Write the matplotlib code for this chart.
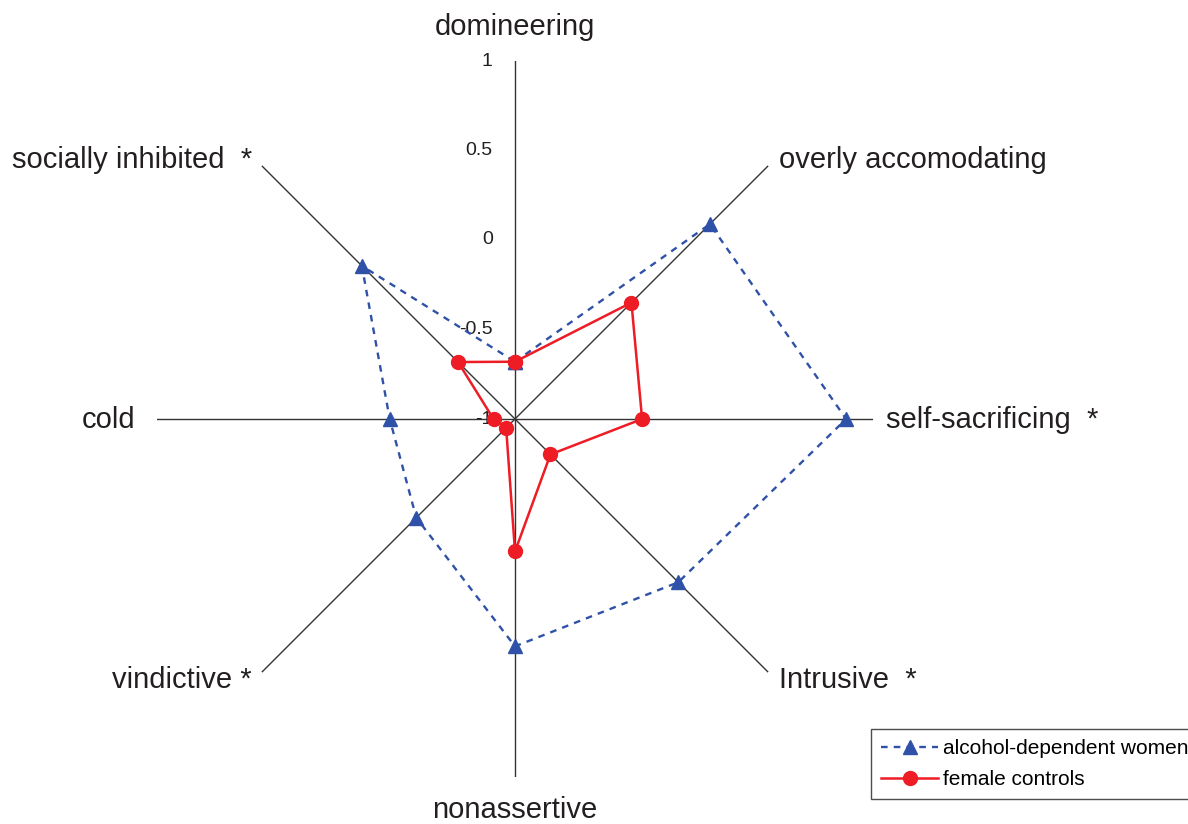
import numpy as np
import matplotlib.pyplot as plt

plt.rcParams['font.family'] = ['Liberation Sans', 'DejaVu Sans']

categories = ['domineering', 'overly accomodating', 'self-sacrificing', 'Intrusive',
              'nonassertive', 'vindictive', 'cold', 'socially inhibited']
alcohol_dependent = [-0.68, 0.54, 0.85, 0.29, 0.27, -0.22, -0.30, 0.21]
female_controls = [-0.68, -0.08, -0.29, -0.72, -0.26, -0.93, -0.88, -0.55]
tick_values = [1, 0.5, 0, -0.5, -1]
tick_labels = ['1', '0.5', '0', '-0.5', '-1']

W, H = 1188, 824
fig = plt.figure(figsize=(W / 100, H / 100), dpi=100)

# polar axes centred on the spoke hub, radius of the spokes
cx, cy, rad = 515, 419, 358
ax = fig.add_axes([(cx - rad) / W, (H - cy - rad) / H, 2 * rad / W, 2 * rad / H],
                  projection='polar')
ax.set_theta_zero_location('N')
ax.set_theta_direction(-1)
ax.set_ylim(-1, 1)
ax.grid(False)
ax.spines['polar'].set_visible(False)
ax.set_xticks([])
ax.set_yticks([])
ax.patch.set_alpha(0)

angles = np.arange(len(categories)) * 2 * np.pi / len(categories)

# spokes
for a in angles:
    ax.plot([a, a], [-1, 1], color='#333333', lw=1.0, zorder=1)

# value labels along the top spoke
for v, lab in zip(tick_values, tick_labels):
    ax.annotate(lab, xy=(0, v), xytext=(-16, 0), textcoords='offset points',
                ha='right', va='center', fontsize=14, color='#231F20')

ang_closed = np.append(angles, angles[0])
ax.plot(ang_closed, alcohol_dependent + alcohol_dependent[:1], color='#2F52A8',
        lw=1.7, linestyle=(0, (2.8, 2.6)), marker='^', markersize=10,
        label='alcohol-dependent women', zorder=3, clip_on=False)
ax.plot(ang_closed, female_controls + female_controls[:1], color='#EE1C25',
        lw=1.8, marker='o', markersize=10, label='female controls', zorder=4,
        clip_on=False)

# category labels
label_pos = [
    ('domineering', 515, 27, 'center'),
    ('overly accomodating', 779, 160, 'left'),
    ('self-sacrificing  *', 886, 420, 'left'),
    ('Intrusive  *', 779, 680, 'left'),
    ('nonassertive', 515, 810, 'center'),
    ('vindictive *', 252, 680, 'right'),
    ('cold', 135, 420, 'right'),
    ('socially inhibited  *', 252, 160, 'right'),
]
for txt, x, y, ha in label_pos:
    fig.text(x / W, 1 - y / H, txt, ha=ha, va='center', fontsize=21, color='#231F20')

leg = fig.legend(loc='upper left', bbox_to_anchor=(871 / W, 1 - 729 / H),
                 fontsize=15, frameon=True, fancybox=False, handlelength=2.7,
                 handletextpad=0.25, borderpad=0.5, borderaxespad=0,
                 labelspacing=0.55)
leg.get_frame().set_edgecolor('#231F20')
leg.get_frame().set_linewidth(1.0)

fig.savefig('out.png', dpi=100)
